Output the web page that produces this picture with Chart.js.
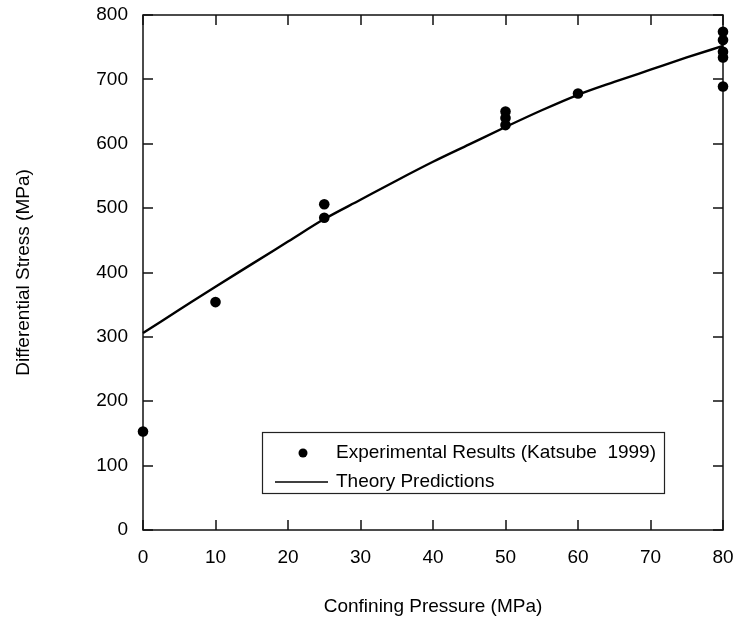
<!DOCTYPE html>
<html>
<head>
<meta charset="utf-8">
<script src="https://cdn.jsdelivr.net/npm/chart.js@4.4.0/dist/chart.umd.min.js"></script>
<style>
  html, body { margin: 0; padding: 0; background: #fff; }
  #wrap { width: 734px; height: 619px; }
</style>
</head>
<body>
<div id="wrap"><canvas id="chart" width="734" height="619"></canvas></div>
<script>
// measured points (Katsube 1999)
const expPressure = [0, 10, 25, 25, 50, 50, 50, 60, 80, 80, 80, 80, 80];
const expStress = [153, 354, 506, 485, 650, 640, 629, 678, 774, 761, 743, 734, 689];

// theory curve
const theoryPressure = [0, 5, 10, 15, 20, 25, 30, 35, 40, 45, 50, 55, 60, 65, 70, 75, 80];
const theoryStress = [306, 342, 378, 413, 448, 483, 513, 543, 572, 599, 626, 652, 676, 696, 715, 734, 752];

const xTicks = [0, 10, 20, 30, 40, 50, 60, 70, 80];
const yTicks = [0, 100, 200, 300, 400, 500, 600, 700, 800];
const legendLabels = ["Experimental Results (Katsube  1999)", "Theory Predictions"];

const FONT = "'Liberation Sans', Arial, sans-serif";
const INK = "#000";

function toPoints(xs, ys) {
    return xs.map(function (v, i) { return { x: v, y: ys[i] }; });
}

function noPadding(s) {
    s.paddingLeft = 0;
    s.paddingRight = 0;
    s.paddingTop = 0;
    s.paddingBottom = 0;
}

// box round the plot with inward ticks on all four sides
const frame = {
    id: "frame",
    beforeDatasetsDraw(chart) {
        const ctx = chart.ctx;
        const a = chart.chartArea;
        const x = chart.scales.x;
        const y = chart.scales.y;
        const len = 10;
        ctx.save();
        ctx.strokeStyle = "#111";
        ctx.lineWidth = 1.5;
        ctx.strokeRect(a.left, a.top, a.right - a.left, a.bottom - a.top);
        ctx.beginPath();
        xTicks.forEach(function (t) {
            const px = Math.round(x.getPixelForValue(t));
            ctx.moveTo(px, a.bottom); ctx.lineTo(px, a.bottom - len);
            ctx.moveTo(px, a.top); ctx.lineTo(px, a.top + len);
        });
        yTicks.forEach(function (t) {
            const py = Math.round(y.getPixelForValue(t));
            ctx.moveTo(a.left, py); ctx.lineTo(a.left + len, py);
            ctx.moveTo(a.right, py); ctx.lineTo(a.right - len, py);
        });
        ctx.stroke();
        ctx.restore();
    }
};

// legend box inside the plot, lower right
const boxLegend = {
    id: "boxLegend",
    afterDraw(chart) {
        const ctx = chart.ctx;
        const a = chart.chartArea;
        const left = a.left + 119, top = a.top + 417;
        const w = 402, h = 61;
        ctx.save();
        ctx.fillStyle = "#fff";
        ctx.fillRect(left, top, w, h);
        ctx.strokeStyle = "#222";
        ctx.lineWidth = 1.2;
        ctx.strokeRect(left + 0.5, top + 0.5, w, h);

        const row1 = top + 21, row2 = top + 50;
        ctx.fillStyle = INK;
        ctx.beginPath();
        ctx.arc(left + 41, row1, 4.5, 0, Math.PI * 2);
        ctx.fill();
        ctx.strokeStyle = INK;
        ctx.lineWidth = 1.5;
        ctx.beginPath();
        ctx.moveTo(left + 13, row2);
        ctx.lineTo(left + 66, row2);
        ctx.stroke();

        ctx.font = "19px " + FONT;
        ctx.textBaseline = "middle";
        ctx.textAlign = "left";
        ctx.fillText(legendLabels[0], left + 74, row1);
        ctx.fillText(legendLabels[1], left + 74, row2);
        ctx.restore();
    }
};

new Chart(document.getElementById("chart"), {
    type: "scatter",
    data: {
        datasets: [
            {
                label: legendLabels[0],
                data: toPoints(expPressure, expStress),
                pointRadius: 5.3,
                pointBackgroundColor: INK,
                pointBorderColor: INK,
                pointBorderWidth: 0,
                showLine: false,
                clip: false
            },
            {
                label: legendLabels[1],
                data: toPoints(theoryPressure, theoryStress),
                showLine: true,
                borderColor: INK,
                borderWidth: 2.4,
                pointRadius: 0,
                cubicInterpolationMode: "monotone",
                clip: false
            }
        ]
    },
    options: {
        responsive: false,
        animation: false,
        layout: { padding: { left: 0, right: 11, top: 15, bottom: 0 } },
        plugins: {
            legend: { display: false },
            tooltip: { enabled: false }
        },
        scales: {
            x: {
                type: "linear",
                min: 0,
                max: 80,
                afterFit: function (s) { s.height = 89; noPadding(s); },
                afterBuildTicks: function (s) { s.ticks = xTicks.map(function (v) { return { value: v }; }); },
                grid: { display: false, drawTicks: false },
                border: { display: false },
                ticks: { color: INK, padding: 16, font: { family: FONT, size: 19 }, maxRotation: 0 },
                title: {
                    display: true,
                    text: "Confining Pressure (MPa)",
                    color: INK,
                    font: { family: FONT, size: 19 },
                    padding: { top: 0, bottom: 1 }
                }
            },
            y: {
                type: "linear",
                min: 0,
                max: 800,
                afterFit: function (s) { s.width = 143; noPadding(s); },
                afterBuildTicks: function (s) { s.ticks = yTicks.map(function (v) { return { value: v }; }); },
                grid: { display: false, drawTicks: false },
                border: { display: false },
                ticks: { color: INK, padding: 15, font: { family: FONT, size: 19 } },
                title: {
                    display: true,
                    text: "Differential Stress (MPa)",
                    color: INK,
                    font: { family: FONT, size: 19 },
                    padding: { top: 12, bottom: 0 }
                }
            }
        }
    },
    plugins: [frame, boxLegend]
});
</script>
</body>
</html>
